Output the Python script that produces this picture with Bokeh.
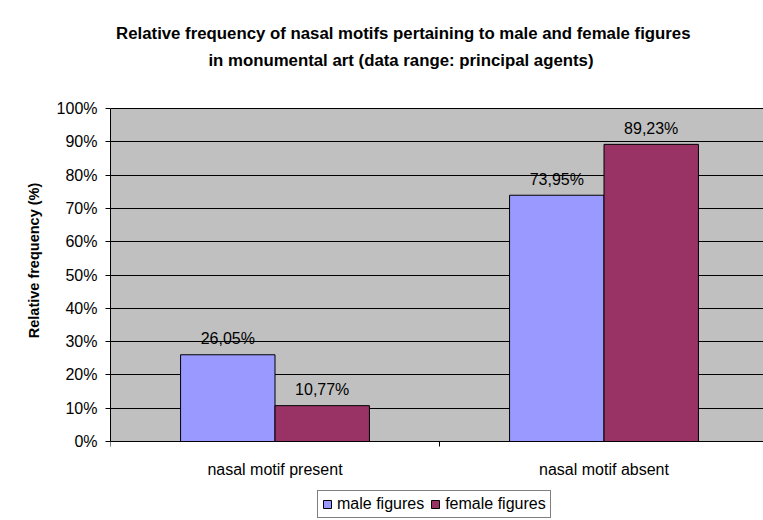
from bokeh.plotting import figure
from bokeh.models import ColumnDataSource, FixedTicker, Label, Legend, LegendItem, Range1d, BoxAnnotation
from bokeh.core.properties import value
from bokeh.embed import file_html
from bokeh.resources import INLINE

categories = ["nasal motif present", "nasal motif absent"]
series = ["male figures", "female figures"]
male = [26.05, 73.95]
female = [10.77, 89.23]
y_ticks = [0, 10, 20, 30, 40, 50, 60, 70, 80, 90, 100]
title_lines = ["Relative frequency of nasal motifs pertaining to male and female figures",
               "in monumental art  (data range: principal agents)"]
y_label = "Relative frequency (%)"

FONT = "Liberation Sans"
MALE_C = "#9999FF"
FEMALE_C = "#993366"
BAR_W = 0.287

centers = [i + 0.5 for i in range(len(categories))]
fmt = lambda v: f"{v:.2f}".replace(".", ",") + "%"

# frame covers the canvas right of the y-axis panel; plot area drawn as a box
p = figure(width=763, height=520, output_backend="svg", toolbar_location=None,
           x_range=Range1d(0, 1.9848), y_range=Range1d(-23.72, 132.43),
           min_border_left=110, min_border_top=0, min_border_right=0, min_border_bottom=0)
p.background_fill_color = "white"
p.border_fill_color = "white"
p.outline_line_color = None

area = BoxAnnotation(bottom=y_ticks[0], top=y_ticks[-1], left=0, fill_color="#C0C0C0", fill_alpha=1,
                     line_color=None, level="image")
p.add_layout(area)

src_m = ColumnDataSource(dict(x=[c - BAR_W / 2 for c in centers], top=male, lab=[fmt(v) for v in male]))
src_f = ColumnDataSource(dict(x=[c + BAR_W / 2 for c in centers], top=female, lab=[fmt(v) for v in female]))

rm = p.vbar(x="x", top="top", bottom=0, width=BAR_W, source=src_m, fill_color=MALE_C, line_color="black", line_width=1)
rf = p.vbar(x="x", top="top", bottom=0, width=BAR_W, source=src_f, fill_color=FEMALE_C, line_color="black", line_width=1)

for s in (src_m, src_f):
    p.text(x="x", y="top", text="lab", source=s, text_align="center", text_baseline="middle",
           y_offset=-16, text_font=value(FONT), text_font_size="16px", text_color="black")

# grid
p.xgrid.visible = False
p.ygrid.grid_line_color = "black"
p.ygrid.grid_line_width = 1
p.ygrid.ticker = FixedTicker(ticks=y_ticks)

# y axis
p.yaxis.ticker = FixedTicker(ticks=y_ticks)
p.yaxis.bounds = (y_ticks[0], y_ticks[-1])
p.yaxis.major_label_overrides = {t: f"{t}%" for t in y_ticks}
p.yaxis.major_tick_out = 5
p.yaxis.major_tick_in = 0
p.yaxis.major_tick_line_color = "black"
p.yaxis.minor_tick_line_color = None
p.yaxis.major_label_standoff = 8
p.yaxis.axis_label = y_label
p.yaxis.axis_label_standoff = 12
p.yaxis.axis_label_text_font = FONT
p.yaxis.axis_label_text_font_style = "bold"
p.yaxis.axis_label_text_font_size = "14.5px"
p.yaxis.axis_label_text_color = "black"
p.yaxis.major_label_text_font = FONT
p.yaxis.major_label_text_font_size = "16px"
p.yaxis.major_label_text_color = "black"
p.yaxis.axis_line_color = "black"

# x axis, fixed at y = 0
p.xaxis.fixed_location = 0
p.xaxis.ticker = FixedTicker(ticks=centers, minor_ticks=list(range(len(categories) + 1)))
p.xaxis.major_label_overrides = {c: n for c, n in zip(centers, categories)}
p.xaxis.major_tick_line_color = None
p.xaxis.minor_tick_out = 5
p.xaxis.minor_tick_in = 0
p.xaxis.minor_tick_line_color = "black"
p.xaxis.major_label_standoff = 13
p.xaxis.major_label_text_font = FONT
p.xaxis.major_label_text_font_size = "16px"
p.xaxis.major_label_text_color = "black"
p.xaxis.axis_line_color = "black"

# title
for t, yy in zip(title_lines, (122.5, 114.4)):
    p.add_layout(Label(x=0.89, y=yy, text=t, text_align="center", text_baseline="middle",
                       text_font=FONT, text_font_style="bold", text_font_size="16.8px", text_color="black"))

legend = Legend(items=[LegendItem(label=series[0], renderers=[rm]), LegendItem(label=series[1], renderers=[rf])],
                orientation="horizontal", location=(207, 2),
                label_text_font=FONT, label_text_font_size="16px", label_text_color="black",
                glyph_width=10, glyph_height=10, label_standoff=5, spacing=6, padding=4,
                border_line_color="black", border_line_width=1, margin=0, label_height=16,
                background_fill_color="white", background_fill_alpha=1)
p.add_layout(legend)

open("out.html", "w").write(file_html(p, INLINE))
